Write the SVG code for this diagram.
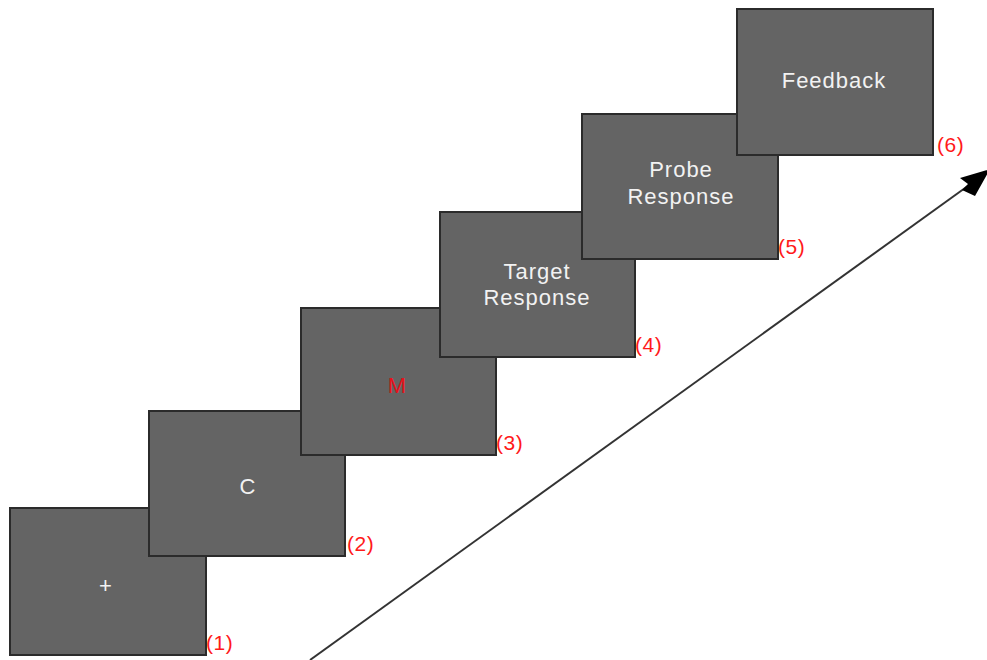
<svg xmlns="http://www.w3.org/2000/svg" width="987" height="660" viewBox="0 0 987 660">
  <style>
    .screen rect { fill: #646464; stroke: #2b2b2b; stroke-width: 2; }
    .screen text { font-family: "Liberation Sans", Arial, sans-serif; font-size: 22px; letter-spacing: 1px; fill: #f2f2f2; text-anchor: middle; }
    .screen text.red { fill: #e8101a; font-size: 22px; letter-spacing: 0; }
    .step { font-family: "Liberation Sans", Arial, sans-serif; font-size: 21px; letter-spacing: 0.5px; fill: #ff1a1a; }
    .timeline { stroke: #333; stroke-width: 2; fill: none; }
  </style>
  <rect width="987" height="660" fill="#fff"/>

  <g id="connectors">
    <line class="timeline" x1="310" y1="660" x2="972" y2="183"/>
    <path d="M990,169 L960,178 L968,184 L962,190 L975,196 Z" fill="#000"/>
  </g>

  <g id="screen1" class="screen">
    <rect x="10" y="508" width="196" height="147"/>
    <text x="106" y="593">+</text>
  </g>
  <text class="step" x="206" y="650">(1)</text>

  <g id="screen2" class="screen">
    <rect x="149" y="411" width="196" height="145"/>
    <text x="248" y="494">C</text>
  </g>
  <text class="step" x="347" y="551">(2)</text>

  <g id="screen3" class="screen">
    <rect x="301" y="308" width="195" height="147"/>
    <text class="red" x="397" y="393">M</text>
  </g>
  <text class="step" x="496" y="450">(3)</text>

  <g id="screen4" class="screen">
    <rect x="440" y="212" width="195" height="145"/>
    <text x="537" y="279">Target</text>
    <text x="537" y="305">Response</text>
  </g>
  <text class="step" x="635" y="352">(4)</text>

  <g id="screen5" class="screen">
    <rect x="582" y="114" width="196" height="145"/>
    <text x="681" y="177">Probe</text>
    <text x="681" y="204">Response</text>
  </g>
  <text class="step" x="778" y="254">(5)</text>

  <g id="screen6" class="screen">
    <rect x="737" y="9" width="196" height="146"/>
    <text x="834" y="88">Feedback</text>
  </g>
  <text class="step" x="937" y="152">(6)</text>
</svg>
